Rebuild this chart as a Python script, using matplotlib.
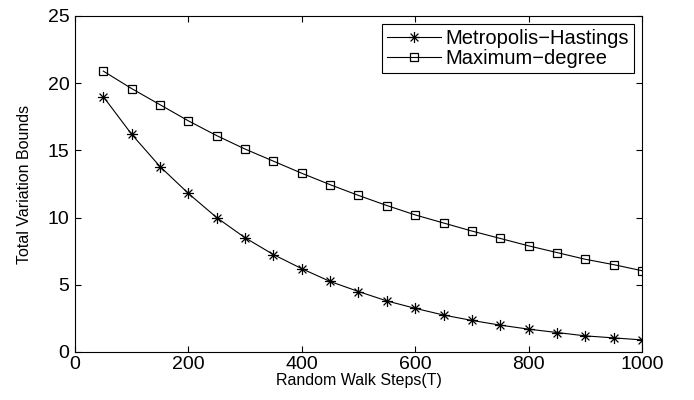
import numpy as np
import matplotlib
matplotlib.use('Agg')
import matplotlib.pyplot as plt
from matplotlib.path import Path

plt.rcParams['font.family'] = ['Liberation Sans', 'DejaVu Sans']

# random walk steps
steps = [50, 100, 150, 200, 250, 300, 350, 400, 450, 500,
         550, 600, 650, 700, 750, 800, 850, 900, 950, 1000]
# total variation bounds
mh = [19.0, 16.2, 13.8, 11.8, 10.0, 8.5, 7.25, 6.2, 5.25, 4.5,
      3.8, 3.25, 2.75, 2.35, 2.0, 1.7, 1.45, 1.2, 1.05, 0.9]
md = [20.9, 19.6, 18.4, 17.2, 16.1, 15.1, 14.2, 13.3, 12.45, 11.65,
      10.9, 10.2, 9.6, 9.0, 8.45, 7.9, 7.4, 6.9, 6.5, 6.05]

# matlab style asterisk (plus + cross)
d = 0.7071
ast = Path([(-1, 0), (1, 0), (0, -1), (0, 1), (-d, -d), (d, d), (-d, d), (d, -d)],
           [Path.MOVETO, Path.LINETO] * 4)

fig = plt.figure(figsize=(6.94, 4.0), dpi=100)
ax = fig.add_axes([0.108, 0.12, 0.817, 0.84])

ax.plot(steps, mh, 'k-', marker=ast, lw=0.8, ms=8, mew=0.9, label='Metropolis\u2212Hastings')
ax.plot(steps, md, 'k-s', lw=0.8, ms=6, mew=0.9, mfc='none', label='Maximum\u2212degree')

ax.set_xlim(0, 1000)
ax.set_ylim(0, 25)
ax.set_xticks(np.arange(0, 1001, 200))
ax.set_yticks(np.arange(0, 26, 5))
ax.tick_params(direction='in', top=True, right=True, labelsize=14, length=4)
ax.tick_params(axis='x', pad=3)
ax.tick_params(axis='y', pad=4)
for s in ax.spines.values():
    s.set_linewidth(0.8)

ax.set_xlabel('Random Walk Steps(T)', fontsize=11.5, labelpad=0)
ax.set_ylabel('Total Variation Bounds', fontsize=11.5, labelpad=11)

leg = ax.legend(loc='upper right', fontsize=14.5, fancybox=False, framealpha=1,
                edgecolor='k', handlelength=2.7, borderpad=0.25, labelspacing=0.05,
                handletextpad=0.2, borderaxespad=0.4)
leg.get_frame().set_linewidth(0.8)

fig.savefig('out.png', dpi=100)
